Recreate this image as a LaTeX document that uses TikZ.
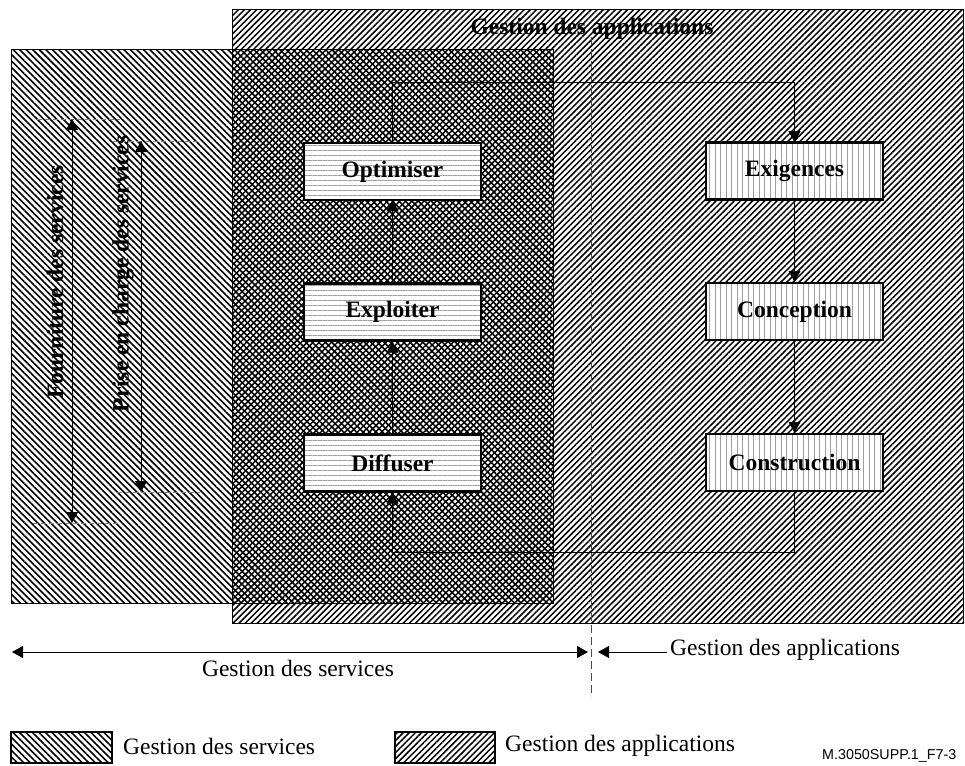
\documentclass[tikz,border=0pt]{standalone}
\usepackage{fontspec}
\setmainfont{Liberation Serif}
\newfontfamily\sansf{Liberation Sans}
\usetikzlibrary{patterns.meta,arrows.meta}
\tikzset{
  svcpat/.style={pattern={Lines[angle=-45,distance=4.6pt,line width=1.6pt]}, pattern color=black},
  apppat/.style={pattern={Lines[angle=45,distance=4.3pt,line width=1.5pt]}, pattern color=black},
  boxbase/.style={draw, line width=2.4pt, minimum width=177pt, minimum height=57pt, inner sep=0pt,
    font=\bfseries\fontsize{23.5}{26}\selectfont, preaction={fill=white}},
  lbox/.style={boxbase, pattern={Lines[angle=0,distance=5pt,line width=0.6pt]}, pattern color=gray!75},
  rbox/.style={boxbase, pattern={Lines[angle=90,distance=5.5pt,line width=0.6pt]}, pattern color=gray!75},
  tip/.tip={Triangle[length=11pt,width=12pt]},
  arr/.style={line width=0.9pt, -tip},
  dbl/.style={line width=0.9pt, tip-tip},
  guide/.style={gray, line width=0.8pt, dash pattern=on 5pt off 3pt},
  divider/.style={gray!60!black, line width=1pt, dash pattern=on 8pt off 4pt},
  reg/.style={font=\fontsize{23.5}{26}\selectfont, inner sep=0pt},
  bld/.style={font=\bfseries\fontsize{23.5}{26}\selectfont, inner sep=0pt}
}
\begin{document}
\begin{tikzpicture}[x=1pt,y=-1pt]
\clip (0,0) rectangle (965,765);
\fill[white] (0,0) rectangle (965,765);
% areas
\fill[apppat] (232,10) rectangle (963,623);
\fill[svcpat] (11,50) rectangle (553,603);
\draw[line width=1pt] (232,10) rectangle (963,623);
\draw[line width=1pt] (11,50) rectangle (553,603);
% divider
\coordinate (dvt) at (591,37);
\coordinate (dvb) at (591,697);
\draw[divider] (dvt) -- (dvb);
% title
\node[bld] (title) at (592,29) {Gestion des applications};
% boxes
\node[lbox] (opt) at (392.5,171.5) {Optimiser};
\node[lbox] (exp) at (392.5,312) {Exploiter};
\node[lbox] (dif) at (392.5,463) {Diffuser};
\node[rbox] (exi) at (794.5,171) {Exigences};
\node[rbox] (cpt) at (794.5,311.5) {Conception};
\node[rbox] (cst) at (794.5,462.5) {Construction};
% connectors
\coordinate (lt) at (392.5,82);
\coordinate (rt) at (794.5,82);
\coordinate (lb) at (392.5,552);
\draw[arr] (dif.north) -- (exp.south);
\draw[arr] (exp.north) -- (opt.south);
\draw[arr] (opt.north) -- (lt) -- (rt) -- (exi.north);
\draw[arr] (exi.south) -- (cpt.north);
\draw[arr] (cpt.south) -- (cst.north);
\draw[arr] (cst.south) |- (lb) -- (dif.south);
% left guides
\draw[guide] (37,119) -- (120,119);
\draw[guide] (33,523) -- (122,523);
\draw[guide] (113,141) -- (197,141);
\draw[guide] (117,492) -- (200,492);
\coordinate (f1) at (72,119);
\coordinate (f2) at (72,523);
\coordinate (p1) at (141,141);
\coordinate (p2) at (141,492);
\draw[dbl] (f1) -- (f2);
\draw[dbl] (p1) -- (p2);
\node[bld, rotate=90] (four) at (55,282) {Fourniture des services};
\node[bld, rotate=90] (prise) at (123,274) {Prise en charge des services};
% bottom scale
\coordinate (s1) at (12,652);
\coordinate (s2) at (588,652);
\coordinate (a1) at (667,652);
\coordinate (a2) at (598,652);
\draw[dbl] (s1) -- (s2);
\draw[arr] (a1) -- (a2);
\node[reg, anchor=center] (gs) at (298,668) {Gestion des services};
\node[reg, anchor=west] (ga) at (670,650) {Gestion des applications};
% legend
\draw[svcpat] (11,732) rectangle (112,763);
\draw[line width=1.6pt] (11,732) rectangle (112,763);
\node[reg, anchor=west] (lg1) at (123,746) {Gestion des services};
\draw[apppat] (395,732) rectangle (495,763);
\draw[line width=1.6pt] (395,732) rectangle (495,763);
\node[reg, anchor=west] (lg2) at (505,746) {Gestion des applications};
\node[font=\sansf\fontsize{14.3}{16}\selectfont, anchor=west, inner sep=0pt] (tag) at (822,756) {M.3050SUPP.1\_F7-3};
\end{tikzpicture}
\end{document}
